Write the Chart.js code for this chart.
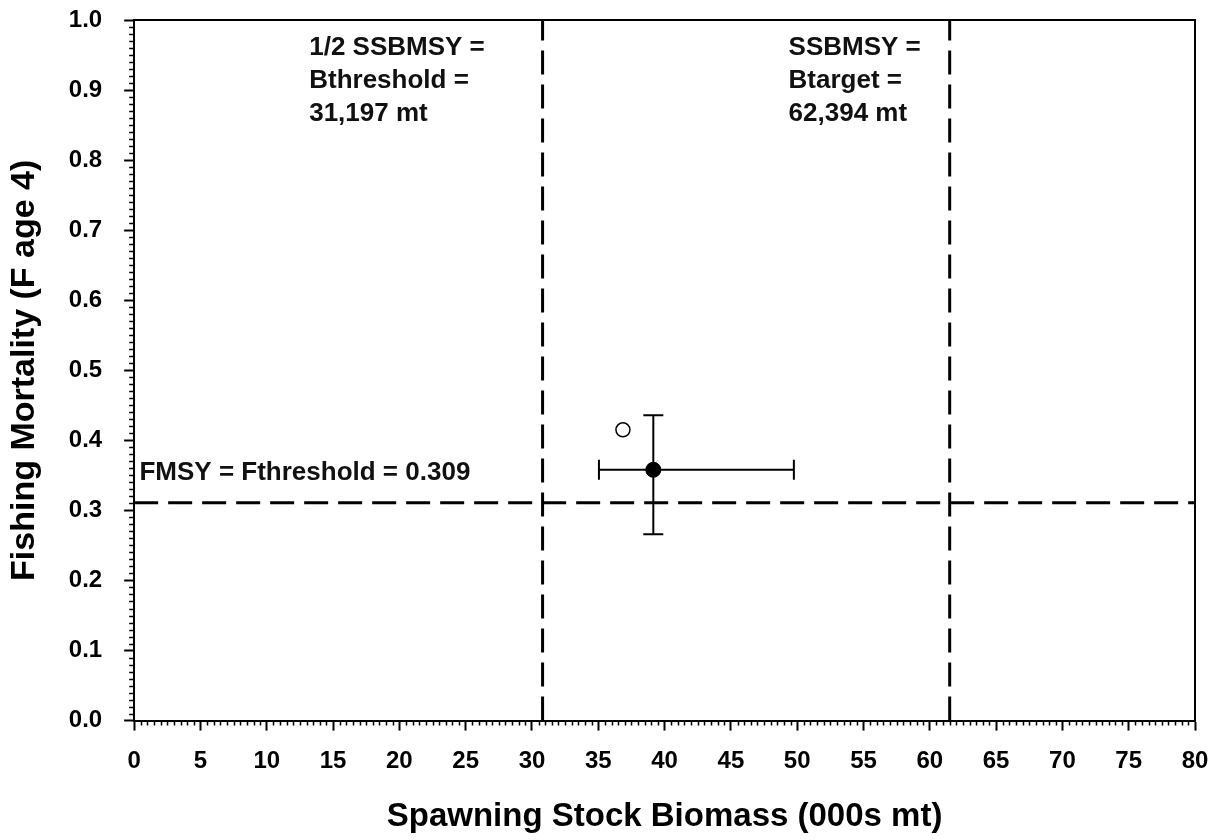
<!DOCTYPE html>
<html>
<head>
<meta charset="utf-8">
<script src="https://cdn.jsdelivr.net/npm/chart.js@4"></script>
<style>
  html, body { margin: 0; padding: 0; background: #fff; }
  #wrap { width: 1217px; height: 840px; }
</style>
</head>
<body>
<div id="wrap"><canvas id="chart" width="1217" height="840"></canvas></div>
<script>
// reference points (000s mt / F age 4)
const bThreshold = 30.8;
const bTarget = 61.5;
const fThreshold = 0.311;

// current estimate with 80% CI and the open (adjusted) point
const currentPoint = [{ x: 39.15, y: 0.358 }];
const currentXRange = [35.05, 49.75];
const currentYRange = [0.266, 0.436];
const openPoint = [{ x: 36.86, y: 0.415 }];

const xTicks = [0, 5, 10, 15, 20, 25, 30, 35, 40, 45, 50, 55, 60, 65, 70, 75, 80];
const yTicks = [0, 0.1, 0.2, 0.3, 0.4, 0.5, 0.6, 0.7, 0.8, 0.9, 1.0];

// text labels placed in data units
const labelLines = [
    { x: 13.2, y: 0.960, text: '1/2 SSBMSY =' },
    { x: 13.2, y: 0.913, text: 'Bthreshold =' },
    { x: 13.2, y: 0.866, text: '31,197 mt' },
    { x: 49.35, y: 0.960, text: 'SSBMSY =' },
    { x: 49.35, y: 0.913, text: 'Btarget =' },
    { x: 49.35, y: 0.866, text: '62,394 mt' },
    { x: 0.4, y: 0.353, text: 'FMSY = Fthreshold = 0.309' }
];

const FONT = '"Liberation Sans", Arial, sans-serif';

// frame, minor ticks, error bars and text
const extrasPlugin = {
    id: 'extras',
    afterDatasetsDraw(chart) {
        const ctx = chart.ctx;
        const xs = chart.scales.x;
        const ys = chart.scales.y;
        const area = chart.chartArea;
        ctx.save();

        // top and right frame
        ctx.strokeStyle = '#000';
        ctx.lineWidth = 2;
        ctx.beginPath();
        ctx.moveTo(area.left, area.top);
        ctx.lineTo(area.right, area.top);
        ctx.lineTo(area.right, area.bottom);
        ctx.stroke();

        // minor ticks
        ctx.lineWidth = 1.5;
        ctx.beginPath();
        for (let i = 0; i <= 160; i++) {
            if (i % 10 === 0) continue;
            const px = Math.round(xs.getPixelForValue(i * 0.5)) + 0.5;
            ctx.moveTo(px, area.bottom);
            ctx.lineTo(px, area.bottom + 5);
        }
        for (let i = 0; i <= 100; i++) {
            if (i % 10 === 0) continue;
            const py = Math.round(ys.getPixelForValue(i * 0.01)) + 0.5;
            ctx.moveTo(area.left, py);
            ctx.lineTo(area.left - 5, py);
        }
        ctx.stroke();

        // error bars
        const cx = xs.getPixelForValue(currentPoint[0].x);
        const cy = ys.getPixelForValue(currentPoint[0].y);
        const x0 = xs.getPixelForValue(currentXRange[0]);
        const x1 = xs.getPixelForValue(currentXRange[1]);
        const y0 = ys.getPixelForValue(currentYRange[0]);
        const y1 = ys.getPixelForValue(currentYRange[1]);
        ctx.lineWidth = 2;
        ctx.beginPath();
        ctx.moveTo(x0, cy); ctx.lineTo(x1, cy);
        ctx.moveTo(x0, cy - 10); ctx.lineTo(x0, cy + 10);
        ctx.moveTo(x1, cy - 10); ctx.lineTo(x1, cy + 10);
        ctx.moveTo(cx, y0); ctx.lineTo(cx, y1);
        ctx.moveTo(cx - 10, y0); ctx.lineTo(cx + 10, y0);
        ctx.moveTo(cx - 10, y1); ctx.lineTo(cx + 10, y1);
        ctx.stroke();

        // redraw filled point on top of the bars
        ctx.fillStyle = '#000';
        ctx.beginPath();
        ctx.arc(cx, cy, 7.5, 0, Math.PI * 2);
        ctx.fill();

        // text labels
        ctx.font = 'bold 26px ' + FONT;
        ctx.textAlign = 'left';
        ctx.textBaseline = 'middle';
        ctx.fillStyle = '#111';
        labelLines.forEach(l => {
            ctx.fillText(l.text, xs.getPixelForValue(l.x), ys.getPixelForValue(l.y));
        });
        ctx.restore();
    }
};

// let the layout padding alone decide where the plot box sits
const noOverflow = (scale) => {
    scale.paddingTop = 0;
    scale.paddingBottom = 0;
    scale.paddingLeft = 0;
    scale.paddingRight = 0;
};

const refLine = (data) => ({
    data: data,
    showLine: true,
    borderColor: '#000',
    borderWidth: 3,
    borderDash: [24, 10],
    pointRadius: 0,
    fill: false
});

new Chart(document.getElementById('chart'), {
    type: 'scatter',
    data: {
        datasets: [
            refLine([{ x: bThreshold, y: 0 }, { x: bThreshold, y: 1 }]),
            refLine([{ x: bTarget, y: 0 }, { x: bTarget, y: 1 }]),
            refLine([{ x: 0, y: fThreshold }, { x: 80, y: fThreshold }]),
            {
                data: openPoint,
                pointRadius: 7,
                pointBackgroundColor: '#fff',
                pointBorderColor: '#000',
                pointBorderWidth: 1.5
            },
            {
                data: currentPoint,
                pointRadius: 7.5,
                pointBackgroundColor: '#000',
                pointBorderColor: '#000'
            }
        ]
    },
    options: {
        responsive: false,
        animation: false,
        layout: { padding: { top: 20, right: 22, left: 0, bottom: 0 } },
        plugins: {
            legend: { display: false },
            tooltip: { enabled: false }
        },
        scales: {
            x: {
                type: 'linear',
                min: 0,
                max: 80,
                afterBuildTicks: (axis) => { axis.ticks = xTicks.map(v => ({ value: v })); },
                afterFit: noOverflow,
                ticks: {
                    color: '#000',
                    font: { family: FONT, size: 24, weight: 'bold' },
                    padding: 16,
                    maxRotation: 0
                },
                grid: { drawOnChartArea: false, tickLength: 10, tickColor: '#000', tickWidth: 2 },
                border: { color: '#000', width: 2 },
                title: {
                    display: true,
                    text: 'Spawning Stock Biomass (000s mt)',
                    color: '#000',
                    font: { family: FONT, size: 33, weight: 'bold' },
                    padding: { top: 6, bottom: 3 }
                }
            },
            y: {
                type: 'linear',
                min: 0,
                max: 1,
                afterBuildTicks: (axis) => { axis.ticks = yTicks.map(v => ({ value: v })); },
                afterFit: noOverflow,
                ticks: {
                    color: '#000',
                    font: { family: FONT, size: 24, weight: 'bold' },
                    padding: 22,
                    callback: (v) => Number(v).toFixed(1)
                },
                grid: { drawOnChartArea: false, tickLength: 10, tickColor: '#000', tickWidth: 2 },
                border: { color: '#000', width: 2 },
                title: {
                    display: true,
                    text: 'Fishing Mortality (F age 4)',
                    color: '#000',
                    font: { family: FONT, size: 34, weight: 'bold' },
                    padding: { top: 4, bottom: 2 }
                }
            }
        }
    },
    plugins: [extrasPlugin]
});
</script>
</body>
</html>
